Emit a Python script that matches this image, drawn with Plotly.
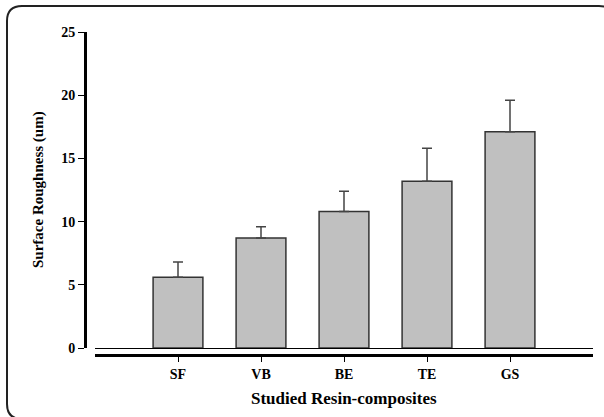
import plotly.graph_objects as go

categories = ["SF", "VB", "BE", "TE", "GS"]
positions = [1, 2, 3, 4, 5]
roughness = [5.6, 8.7, 10.8, 13.2, 17.1]
sd_upper = [1.2, 0.9, 1.6, 2.6, 2.5]
y_ticks = [0, 5, 10, 15, 20, 25]

W, H = 604, 417
L, R, T, B = 85, 11, 32, 62
PW, PH = W - L - R, H - T - B


def u(px):
    return (px - L) / PW


def v(py):
    return 1 - (py - T) / PH


# rounded outer frame (pixel geometry -> paper coords)
x0, x1, y0, y1, r = 7, 614, 6, 419, 15
path = (
    f"M {u(x0 + r)},{v(y0)} L {u(x1 - r)},{v(y0)} "
    f"Q {u(x1)},{v(y0)} {u(x1)},{v(y0 + r)} "
    f"L {u(x1)},{v(y1 - r)} Q {u(x1)},{v(y1)} {u(x1 - r)},{v(y1)} "
    f"L {u(x0 + r)},{v(y1)} Q {u(x0)},{v(y1)} {u(x0)},{v(y1 - r)} "
    f"L {u(x0)},{v(y0 + r)} Q {u(x0)},{v(y0)} {u(x0 + r)},{v(y0)} Z"
)

fig = go.Figure()
fig.add_trace(go.Bar(
    x=positions, y=roughness, width=0.6,
    marker=dict(color="#c0c0c0", line=dict(color="#333333", width=1.5)),
    error_y=dict(type="data", array=sd_upper, arrayminus=[0] * len(sd_upper),
                 symmetric=False, color="#444444", thickness=1.5, width=5),
    showlegend=False,
))

font_tick = dict(family="Liberation Serif", size=14, color="black")

fig.update_layout(
    width=W, height=H,
    margin=dict(l=L, r=R, t=T, b=B, pad=0),
    paper_bgcolor="white", plot_bgcolor="white",
    xaxis=dict(
        domain=[10 / PW, 1], range=[0, 6],
        tickvals=positions, ticktext=[f"<b>{c}</b>" for c in categories],
        tickfont=font_tick,
        anchor="free", position=0,
        showline=True, linewidth=3, linecolor="black",
        ticks="outside", ticklen=5, tickwidth=1, tickcolor="black",
        showgrid=False, zeroline=False,
    ),
    yaxis=dict(
        domain=[7 / PH, 1], range=[0, 25],
        tickvals=y_ticks, ticktext=[f"<b>{t}</b>" for t in y_ticks],
        tickfont=font_tick,
        anchor="free", position=0,
        showline=True, linewidth=3, linecolor="black",
        ticks="outside", ticklen=6, tickwidth=1, tickcolor="black",
        showgrid=False,
        zeroline=True, zerolinecolor="black", zerolinewidth=1,
    ),
    shapes=[dict(type="path", xref="paper", yref="paper", path=path,
                 line=dict(color="#222222", width=2), fillcolor="rgba(0,0,0,0)",
                 layer="below")],
    annotations=[
        dict(text="<b>Studied Resin-composites</b>", xref="paper", yref="paper",
             x=u(344), y=v(398), xanchor="center", yanchor="middle",
             showarrow=False,
             font=dict(family="Liberation Serif", size=17, color="black")),
        dict(text="<b>Surface Roughness (um)</b>", xref="paper", yref="paper",
             x=u(38), y=v(190), xanchor="center", yanchor="middle",
             textangle=-90, showarrow=False,
             font=dict(family="Liberation Serif", size=15, color="black")),
    ],
)

fig.write_html("out.html", config={"displayModeBar": False},
               post_script="document.body.style.margin='0';document.body.style.overflow='hidden';")
